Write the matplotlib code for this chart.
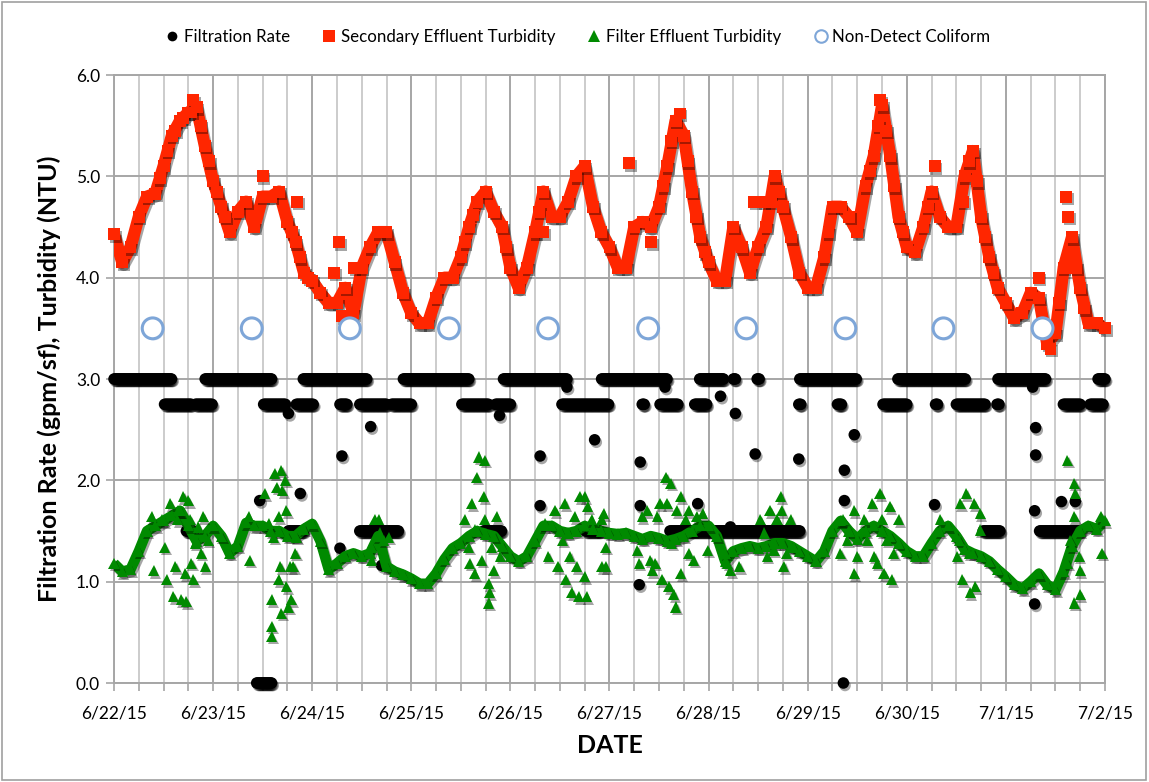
import numpy as np
import pandas as pd
import matplotlib
matplotlib.use("Agg")
import matplotlib.pyplot as plt
import matplotlib.dates as mdates
import matplotlib.patheffects as pe
from matplotlib.lines import Line2D
from matplotlib.patches import Rectangle

plt.rcParams['font.family'] = ['Lato', 'DejaVu Sans']

START = pd.Timestamp('2015-06-22')
END = pd.Timestamp('2015-07-02')

# ---------------- data ----------------
# Secondary effluent turbidity (NTU), every 2 hours from 6/22/15 00:00
secondary = [4.43, 4.15, 4.30, 4.60, 4.80, 4.83, 5.10, 5.40, 5.55, 5.63, 5.68, 5.30,
             4.95, 4.70, 4.45, 4.65, 4.75, 4.50, 4.80, 4.80, 4.85, 4.55, 4.35, 4.05,
             3.97, 3.85, 3.75, 3.75, 3.90, 3.65, 4.10, 4.30, 4.45, 4.45, 4.15, 3.85,
             3.65, 3.55, 3.55, 3.80, 4.00, 4.00, 4.20, 4.50, 4.75, 4.85, 4.65, 4.50,
             4.10, 3.90, 4.10, 4.45, 4.85, 4.60, 4.60, 4.75, 5.00, 5.10, 4.70, 4.45,
             4.30, 4.10, 4.10, 4.50, 4.55, 4.50, 4.70, 5.10, 5.55, 5.40, 4.85, 4.40,
             4.15, 3.97, 3.97, 4.50, 4.30, 4.05, 4.30, 4.50, 5.00, 4.70, 4.40, 4.05,
             3.90, 3.90, 4.20, 4.70, 4.70, 4.60, 4.45, 4.90, 5.20, 5.70, 5.20, 4.60,
             4.30, 4.25, 4.50, 4.85, 4.60, 4.50, 4.50, 5.00, 5.25, 4.60, 4.20, 3.90,
             3.75, 3.60, 3.65, 3.85, 3.80, 3.35, 3.45, 4.10, 4.40, 3.90, 3.55, 3.55,
             3.50]
# additional secondary readings (day offset from 6/22/15, NTU)
secondary_extra_day = [0.46, 0.54, 0.62, 0.70, 0.78, 0.80, 0.875, 0.96, 1.04, 1.12,
                       1.50, 1.80, 1.85, 1.875, 1.96, 2.22, 2.27, 2.30, 2.40, 2.42,
                       3.54, 3.62, 3.96, 4.29, 4.333, 5.20, 5.42, 5.54, 5.625, 5.71,
                       5.79, 5.875, 5.96, 6.46, 6.55, 6.625, 6.71, 7.21, 7.625, 7.71,
                       7.73, 7.79, 7.875, 7.96, 8.21, 8.28, 8.57, 8.625, 8.71, 8.79,
                       8.875, 9.33, 9.45, 9.54, 9.61, 9.63, 9.71, 9.79]
secondary_extra_val = [4.98, 5.25, 5.45, 5.58, 5.63, 5.75, 5.50, 5.15, 4.85, 4.60,
                       5.00, 4.45, 4.75, 4.20, 4.00, 4.05, 4.35, 3.62, 3.55, 4.10,
                       4.35, 4.62, 4.30, 4.65, 4.45, 5.13, 4.35, 4.90, 5.35, 5.62,
                       5.15, 4.60, 4.25, 4.75, 4.75, 4.75, 4.85, 4.45, 5.05, 5.50,
                       5.75, 5.45, 4.90, 4.45, 4.70, 5.10, 4.75, 5.15, 4.95, 4.40,
                       4.05, 4.00, 3.30, 3.75, 4.80, 4.60, 4.10, 3.70]

# Filter effluent turbidity (NTU), every 2 hours from 6/22/15 00:00
filter_eff = [1.18, 1.10, 1.12, 1.30, 1.50, 1.55, 1.60, 1.65, 1.70, 1.55, 1.40, 1.45,
              1.55, 1.45, 1.28, 1.35, 1.58, 1.55, 1.55, 1.50, 1.50, 1.45, 1.45, 1.52,
              1.57, 1.40, 1.12, 1.18, 1.25, 1.28, 1.25, 1.28, 1.45, 1.15, 1.10, 1.07,
              1.03, 0.98, 0.98, 1.08, 1.22, 1.33, 1.38, 1.45, 1.50, 1.47, 1.45, 1.35,
              1.25, 1.20, 1.25, 1.40, 1.55, 1.55, 1.50, 1.48, 1.50, 1.55, 1.52, 1.50,
              1.48, 1.47, 1.48, 1.45, 1.42, 1.45, 1.43, 1.40, 1.42, 1.45, 1.50, 1.55,
              1.55, 1.45, 1.20, 1.30, 1.33, 1.35, 1.33, 1.35, 1.38, 1.38, 1.35, 1.30,
              1.25, 1.20, 1.30, 1.50, 1.60, 1.50, 1.42, 1.50, 1.55, 1.50, 1.45, 1.38,
              1.30, 1.25, 1.25, 1.38, 1.50, 1.55, 1.45, 1.32, 1.28, 1.25, 1.20, 1.12,
              1.05, 0.97, 0.93, 1.00, 1.08, 0.97, 0.92, 1.10, 1.35, 1.50, 1.55, 1.52,
              1.60]
filter_extra_day = [0.38, 0.40, 0.48, 0.51, 0.53, 0.57, 0.60, 0.62, 0.64, 0.65, 0.68, 0.70,
                    0.72, 0.73, 0.75, 0.77, 0.78, 0.80, 0.82, 0.85, 0.88, 0.90, 0.92, 0.95,
                    1.36, 1.37, 1.52, 1.56, 1.59, 1.59, 1.59, 1.61, 1.62, 1.64, 1.66, 1.66,
                    1.68, 1.69, 1.69, 1.70, 1.73, 1.74, 1.74, 1.76, 1.78, 1.79, 1.81, 1.83,
                    1.84, 2.60, 2.60, 2.63, 2.67, 2.68, 2.72, 2.77, 3.54, 3.58, 3.59, 3.61,
                    3.64, 3.64, 3.66, 3.68, 3.71, 3.73, 3.74, 3.74, 3.78, 3.78, 3.79, 3.81,
                    3.83, 3.86, 3.90, 4.35, 4.38, 4.45, 4.48, 4.53, 4.55, 4.56, 4.60, 4.62,
                    4.65, 4.67, 4.69, 4.70, 4.75, 4.75, 4.77, 4.78, 4.82, 4.92, 4.92, 4.94,
                    4.96, 4.96, 5.28, 5.30, 5.33, 5.38, 5.41, 5.43, 5.46, 5.48, 5.51, 5.53,
                    5.57, 5.58, 5.60, 5.62, 5.63, 5.65, 5.67, 5.68, 5.72, 5.72, 5.77, 5.80,
                    5.80, 5.85, 5.88, 5.94, 5.99, 6.17, 6.19, 6.22, 6.31, 6.52, 6.56, 6.59,
                    6.62, 6.66, 6.69, 6.73, 6.74, 6.76, 6.79, 6.83, 6.86, 7.33, 7.36, 7.40,
                    7.47, 7.47, 7.50, 7.57, 7.60, 7.65, 7.67, 7.70, 7.73, 7.75, 7.77, 7.80,
                    7.83, 7.85, 7.87, 7.92, 8.34, 8.51, 8.53, 8.54, 8.56, 8.60, 8.63, 8.64,
                    8.68, 8.69, 8.74, 8.74, 9.62, 9.69, 9.70, 9.69, 9.65, 9.74, 9.75, 9.75,
                    9.69, 9.62, 9.97, 9.96]
filter_extra_val = [1.64, 1.11, 1.61, 1.34, 1.02, 1.77, 0.85, 1.15, 1.61, 1.70, 0.82, 1.84,
                    1.08, 0.80, 1.80, 1.61, 1.18, 1.02, 1.38, 1.54, 1.28, 1.64, 1.15, 1.41,
                    1.64, 1.21, 1.87, 1.57, 0.82, 0.46, 0.56, 1.44, 2.07, 1.93, 1.64, 1.02,
                    1.15, 2.10, 0.69, 1.90, 2.00, 1.70, 0.95, 0.75, 1.15, 0.82, 1.15, 1.28,
                    1.44, 1.21, 1.34, 1.61, 1.61, 1.48, 1.41, 1.44, 1.61, 1.34, 1.18, 1.77,
                    1.51, 1.08, 2.03, 2.23, 1.21, 1.84, 2.20, 1.61, 0.98, 0.79, 0.89, 1.34,
                    1.11, 1.64, 1.25, 1.57, 1.25, 1.70, 1.15, 1.41, 1.77, 1.02, 1.25, 0.89,
                    1.64, 1.15, 0.85, 1.84, 1.84, 1.05, 0.85, 1.74, 1.61, 1.15, 1.61, 1.67,
                    1.34, 1.15, 1.31, 1.18, 1.64, 1.70, 1.21, 1.11, 1.18, 1.64, 1.77, 1.02,
                    2.03, 1.77, 0.95, 1.97, 1.38, 0.87, 0.75, 1.70, 1.84, 1.08, 1.61, 1.70,
                    1.28, 1.21, 1.64, 1.67, 1.31, 1.28, 1.18, 1.11, 1.15, 1.61, 1.48, 1.25,
                    1.70, 1.31, 1.61, 1.84, 1.70, 1.15, 1.28, 1.61, 1.34, 1.28, 1.61, 1.41,
                    1.08, 1.70, 1.25, 1.61, 1.41, 1.77, 1.25, 1.18, 1.87, 1.61, 1.08, 1.41,
                    1.74, 1.02, 1.28, 1.61, 1.61, 1.25, 1.41, 1.77, 1.02, 1.87, 1.28, 0.89,
                    1.77, 0.95, 1.67, 1.51, 2.20, 1.97, 1.87, 1.64, 1.41, 1.25, 1.11, 0.87,
                    0.79, 1.18, 1.28, 1.64]

# Filtration rate (gpm/sf): runs of constant rate (start day, end day, rate)
rate_runs = [(0.00, 0.58, 3.00), (0.92, 1.59, 3.00), (1.91, 2.55, 3.00), (2.92, 3.58, 3.00),
             (3.93, 4.57, 3.00), (4.92, 5.58, 3.00), (5.91, 6.15, 3.00), (6.25, 6.27, 3.00),
             (6.49, 6.51, 3.00), (6.92, 7.49, 3.00), (7.91, 8.59, 3.00), (8.92, 9.40, 3.00),
             (9.93, 10.00, 3.00),
             (0.51, 0.78, 2.75), (0.82, 0.99, 2.75), (1.51, 1.73, 2.75), (1.84, 2.01, 2.75),
             (2.28, 2.35, 2.75), (2.48, 2.75, 2.75), (2.80, 3.00, 2.75), (3.51, 3.78, 2.75),
             (3.85, 4.00, 2.75), (4.52, 4.99, 2.75), (5.33, 5.35, 2.75), (5.51, 5.69, 2.75),
             (5.86, 5.98, 2.75), (6.91, 6.93, 2.75), (7.30, 7.34, 2.75), (7.76, 8.00, 2.75),
             (8.29, 8.31, 2.75), (8.50, 8.79, 2.75), (8.91, 8.93, 2.75), (9.58, 9.75, 2.75),
             (9.85, 9.98, 2.75),
             (0.73, 0.80, 1.50), (1.76, 1.91, 1.50), (2.48, 2.87, 1.50), (3.73, 3.91, 1.50),
             (4.76, 4.90, 1.50), (5.61, 6.92, 1.50), (8.77, 8.94, 1.50), (9.34, 9.75, 1.50),
             (1.44, 1.59, 0.00), (7.36, 7.36, 0.00)]
rate_extra_day = [1.47, 1.76, 1.88, 2.28, 2.30, 2.59, 2.70, 3.89, 4.30, 4.30, 4.57, 4.85,
                  5.31, 5.31, 5.30, 5.56, 5.89, 6.12, 6.22, 6.27, 6.47, 6.91, 7.37, 7.37,
                  7.47, 8.28, 9.27, 9.30, 9.30, 9.29, 9.29, 9.56, 9.70]
rate_extra_val = [1.80, 2.66, 1.87, 1.33, 2.24, 2.53, 1.16, 2.64, 2.24, 1.75, 2.92, 2.40,
                  2.18, 1.75, 0.97, 2.92, 1.77, 2.83, 1.54, 2.66, 2.26, 2.21, 2.10, 1.80,
                  2.45, 1.76, 2.92, 2.52, 2.25, 1.70, 0.78, 1.79, 1.79]

# Non-detect coliform samples
coliform_day = [0.39, 1.39, 2.38, 3.38, 4.38, 5.39, 6.38, 7.38, 8.37, 9.37]
coliform_val = [3.5] * 10

# ---------------- helpers ----------------
def to_time(days):
    return START + pd.to_timedelta(np.asarray(days, dtype=float), unit='D')

def expand_runs(runs, step=1 / 96):
    d, v = [], []
    for a, b, lev in runs:
        n = max(1, int(round((b - a) / step)) + 1)
        d.extend(np.linspace(a, b, n))
        v.extend([lev] * n)
    return d, v

grid_days = np.arange(len(secondary)) / 12

# ---------------- figure ----------------
fig = plt.figure(figsize=(11.49, 7.82), dpi=100)
ax = fig.add_axes([114 / 1149, 1 - 683 / 782, (1105 - 114) / 1149, (683 - 75) / 782])

mshadow = [pe.SimplePatchShadow(offset=(1.2, -1.8), shadow_rgbFace='k', alpha=0.35), pe.Normal()]
lshadow = [pe.SimpleLineShadow(offset=(1.2, -1.8), shadow_color='k', alpha=0.35), pe.Normal()]

RED = '#ff2600'
GREEN = '#008a00'
BLUE = '#7ea6d8'

# filtration rate
rd, rv = expand_runs(rate_runs)
rd = list(rd) + rate_extra_day
rv = list(rv) + rate_extra_val
ax.plot(to_time(rd), rv, 'o', color='black', ms=8.3, mew=0, clip_on=False,
        path_effects=mshadow, zorder=3)

# secondary effluent turbidity: dense record drawn as a marker ribbon
ax.plot(to_time(grid_days), secondary, '-', color=RED, lw=8.8, solid_capstyle='butt',
        solid_joinstyle='round', path_effects=lshadow, zorder=4)
sd = np.concatenate([grid_days, secondary_extra_day])
sv = np.concatenate([secondary, secondary_extra_val])
ax.plot(to_time(sd), sv, 's', color=RED, ms=8.6, mew=0, clip_on=False,
        path_effects=mshadow, zorder=4)

# filter effluent turbidity
ax.plot(to_time(grid_days), filter_eff, '-', color=GREEN, lw=7.5, solid_capstyle='butt',
        solid_joinstyle='round', path_effects=lshadow, zorder=5)
fd = np.concatenate([grid_days, filter_extra_day])
fv = np.concatenate([filter_eff, filter_extra_val])
ax.plot(to_time(fd), fv, '^', color=GREEN, ms=8, mew=0, clip_on=False,
        path_effects=mshadow, zorder=5)

# coliform
ax.plot(to_time(coliform_day), coliform_val, 'o', mfc='white', mec=BLUE, mew=2.2,
        ms=15, clip_on=False, zorder=6,
        path_effects=[pe.SimplePatchShadow(offset=(0.8, -1.2), shadow_rgbFace=BLUE, alpha=0.35),
                      pe.Normal()])

# axes styling
ax.set_xlim(START, END)
ax.set_ylim(0, 6)
ax.set_yticks(np.arange(0, 6.01, 1.0))
ax.yaxis.set_major_formatter(matplotlib.ticker.FormatStrFormatter('%.1f'))
ax.xaxis.set_major_locator(mdates.DayLocator())
ax.xaxis.set_minor_locator(mdates.HourLocator(byhour=[6, 12, 18]))
ax.xaxis.set_major_formatter(matplotlib.ticker.FuncFormatter(
    lambda x, pos: (lambda d: f"{d.month}/{d.day}/{d.strftime('%y')}")(mdates.num2date(x))))

ax.grid(True, which='major', axis='both', color='#a6a6a6', lw=1.4)
ax.grid(True, which='minor', axis='x', color='#cccccc', lw=1.4)
ax.set_axisbelow(True)
for s in ax.spines.values():
    s.set_color('#a6a6a6')
    s.set_linewidth(1.4)
ax.tick_params(axis='x', which='both', direction='out', length=6, color='#a6a6a6',
               width=1.2, pad=10, labelsize=12.5)
ax.tick_params(axis='y', which='major', direction='out', length=6, color='#a6a6a6',
               width=1.2, pad=4, labelsize=12.5)

ax.set_xlabel('DATE', fontsize=18, fontweight='bold', labelpad=9)
ax.set_ylabel('Filtration Rate (gpm/sf), Turbidity (NTU)', fontsize=18,
              fontweight='bold', labelpad=11)

handles = [
    Line2D([], [], ls='', marker='o', color='black', ms=7, mew=0),
    Line2D([], [], ls='', marker='s', color=RED, ms=8, mew=0),
    Line2D([], [], ls='', marker='^', color=GREEN, ms=8, mew=0),
    Line2D([], [], ls='', marker='o', mfc='white', mec=BLUE, mew=1.5, ms=9),
]
labels = ['Filtration Rate', 'Secondary Effluent Turbidity', 'Filter Effluent Turbidity',
          'Non-Detect Coliform']
fig.legend(handles, labels, loc='center', bbox_to_anchor=(0.503, 1 - 37 / 782), ncol=4,
           frameon=False, fontsize=12.2, handlelength=0.8, handletextpad=0.3,
           columnspacing=1.9)

fig.add_artist(Rectangle((0.0015, 0.002), 0.996, 0.995, transform=fig.transFigure,
                         fill=False, edgecolor='#a0a0a0', lw=1.2))

fig.savefig('out.png', dpi=100)
